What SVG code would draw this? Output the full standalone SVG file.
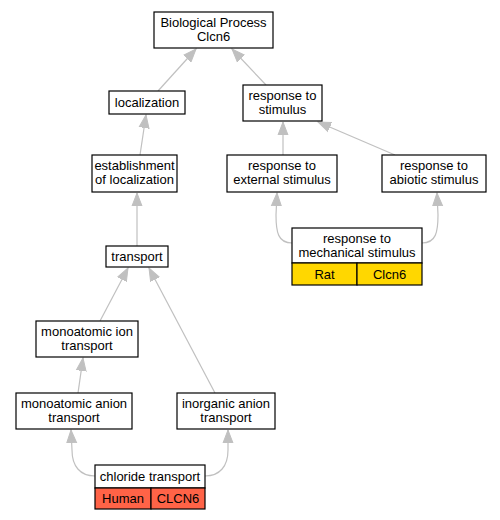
<svg xmlns="http://www.w3.org/2000/svg" width="500" height="520" viewBox="0 0 500 520">
<style>
.box{fill:#fff;stroke:#000;stroke-width:1.2}
.gold{fill:#ffd700;stroke:#000;stroke-width:1.2}
.red{fill:#ff6347;stroke:#000;stroke-width:1.2}
text{font-family:"Liberation Sans",Arial,sans-serif;font-size:13px;fill:#000;text-anchor:middle}
.edge{fill:none;stroke:#c0c0c0;stroke-width:1.2}
</style>
<defs>
<marker id="arr" markerUnits="userSpaceOnUse" markerWidth="14" markerHeight="12" viewBox="0 0 14 12" refX="13" refY="6" orient="auto">
<path d="M0,1 L13,6 L0,11 Z" fill="#c0c0c0" stroke="#c0c0c0"/>
</marker>
</defs>
<rect width="500" height="520" fill="#fff"/>
<g id="edges">
<path class="edge" marker-end="url(#arr)" d="M158,91 L196,49"/>
<path class="edge" marker-end="url(#arr)" d="M266,85 L232,49"/>
<path class="edge" marker-end="url(#arr)" d="M140,155 L146,115"/>
<path class="edge" marker-end="url(#arr)" d="M137,246 L137,193"/>
<path class="edge" marker-end="url(#arr)" d="M283,155 L283,122"/>
<path class="edge" marker-end="url(#arr)" d="M395,155 L318,122"/>
<path class="edge" marker-end="url(#arr)" d="M292,243 C278,243 276,232 276,215 L277,193"/>
<path class="edge" marker-end="url(#arr)" d="M422,243 C436,243 438,232 438,215 L437,193"/>
<path class="edge" marker-end="url(#arr)" d="M100,321 L128,268"/>
<path class="edge" marker-end="url(#arr)" d="M215,393 L149,268"/>
<path class="edge" marker-end="url(#arr)" d="M78,393 L83,358"/>
<path class="edge" marker-end="url(#arr)" d="M95,476 C80,476 72,466 72,450 L71,430"/>
<path class="edge" marker-end="url(#arr)" d="M205,476 C220,476 228,466 228,450 L228,430"/>
</g>
<g id="n_bp">
<rect class="box" x="154" y="12" width="119" height="36"/>
<text x="213.5" y="27">Biological Process</text>
<text x="213.5" y="41">Clcn6</text>
</g>
<g id="n_localization">
<rect class="box" x="109" y="91" width="76" height="23"/>
<text x="147" y="107">localization</text>
</g>
<g id="n_rts">
<rect class="box" x="243" y="85" width="79" height="36"/>
<text x="282.5" y="100">response to</text>
<text x="282.5" y="114">stimulus</text>
</g>
<g id="n_establishment">
<rect class="box" x="92" y="155" width="85" height="37"/>
<text x="134.5" y="170">establishment</text>
<text x="134.5" y="184">of localization</text>
</g>
<g id="n_ext">
<rect class="box" x="227" y="155" width="110" height="37"/>
<text x="282" y="170">response to</text>
<text x="282" y="184">external stimulus</text>
</g>
<g id="n_abiotic">
<rect class="box" x="382" y="155" width="104" height="37"/>
<text x="434" y="170">response to</text>
<text x="434" y="184">abiotic stimulus</text>
</g>
<g id="n_transport">
<rect class="box" x="106" y="246" width="62" height="21"/>
<text x="137" y="261">transport</text>
</g>
<g id="n_mech">
<rect class="box" x="292" y="228" width="130" height="35"/>
<text x="357" y="243">response to</text>
<text x="357" y="257">mechanical stimulus</text>
<rect class="gold" x="292" y="263" width="65" height="22"/>
<rect class="gold" x="357" y="263" width="65" height="22"/>
<text x="324.5" y="278.5">Rat</text>
<text x="389.5" y="278.5">Clcn6</text>
</g>
<g id="n_ion">
<rect class="box" x="36" y="321" width="102" height="36"/>
<text x="87" y="336">monoatomic ion</text>
<text x="87" y="350">transport</text>
</g>
<g id="n_anion">
<rect class="box" x="16" y="393" width="116" height="36"/>
<text x="74" y="408">monoatomic anion</text>
<text x="74" y="422">transport</text>
</g>
<g id="n_inorganic">
<rect class="box" x="177" y="393" width="98" height="36"/>
<text x="226" y="408">inorganic anion</text>
<text x="226" y="422">transport</text>
</g>
<g id="n_chloride">
<rect class="box" x="95" y="465" width="110" height="23"/>
<text x="150" y="481">chloride transport</text>
<rect class="red" x="95" y="488" width="56" height="21"/>
<rect class="red" x="151" y="488" width="54" height="21"/>
<text x="123" y="503">Human</text>
<text x="178" y="503">CLCN6</text>
</g>
</svg>
